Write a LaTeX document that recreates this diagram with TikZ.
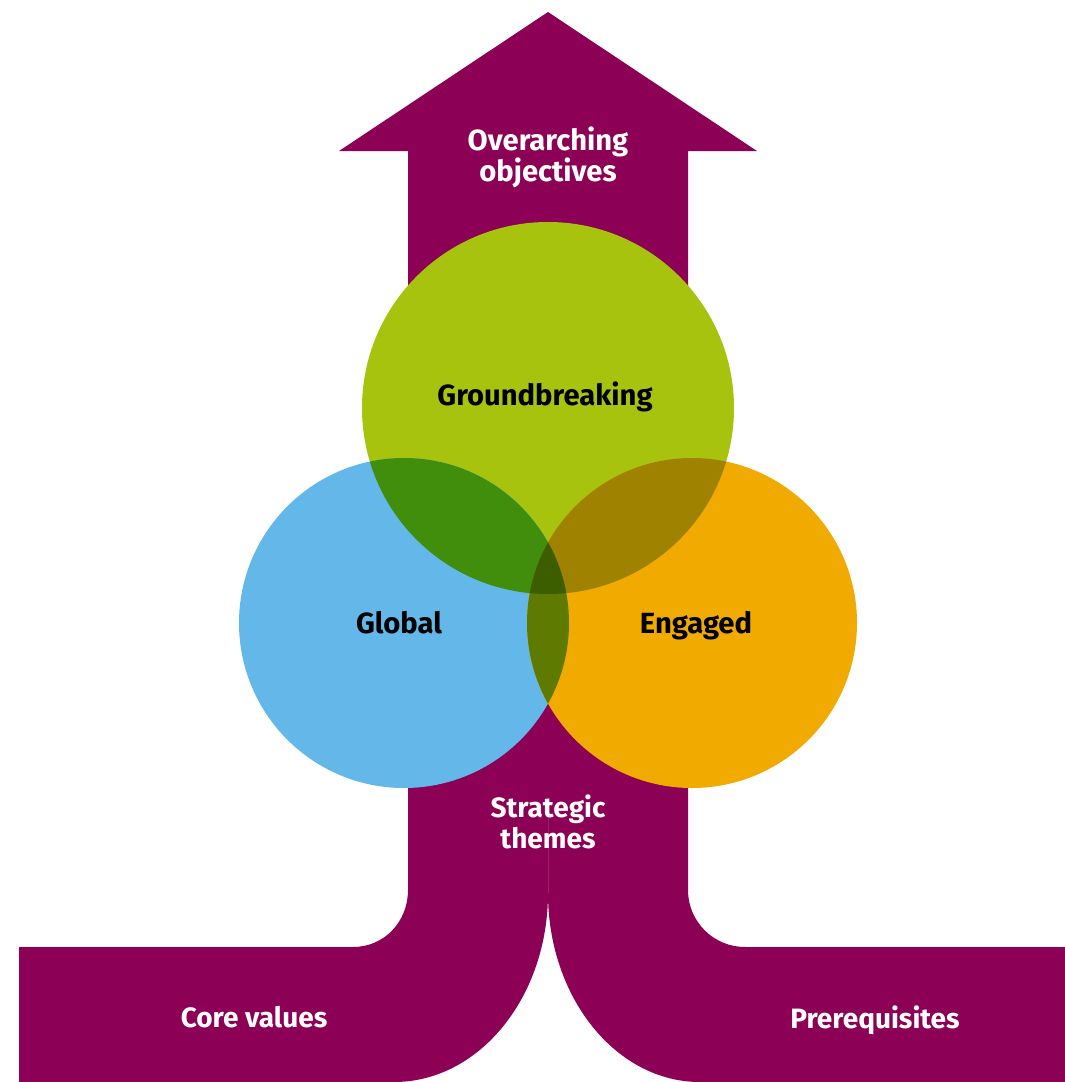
\documentclass[tikz,border=0pt]{standalone}
\usepackage{fontspec}
\setmainfont{Fira Sans}
\begin{document}
\definecolor{plum}{RGB}{140,0,85}
\definecolor{lime}{RGB}{168,195,13}
\definecolor{sky}{RGB}{99,184,233}
\definecolor{amber}{RGB}{241,170,0}
\definecolor{limesky}{RGB}{65,141,12}
\definecolor{limeamber}{RGB}{159,130,0}
\definecolor{skyamber}{RGB}{94,123,0}
\definecolor{allthree}{RGB}{61,94,0}
\begin{tikzpicture}[x=0.5pt,y=-0.5pt,
  lbl/.style={font=\fontsize{14}{15.5}\selectfont\bfseries, align=center, inner sep=0pt},
  biglbl/.style={lbl, font=\fontsize{14.6}{15.5}\selectfont\bfseries},
  whitelbl/.style={lbl, text=white},
  darklbl/.style={biglbl, text=black}]
\useasboundingbox (0,0) rectangle (1065,1082);

% circle centres
\coordinate (cg) at (548,408);
\coordinate (cb) at (404,623);
\coordinate (co) at (692,623);

% arrow with the two incoming branches
\fill[plum] (548,12) -- (757,151) -- (688,151) -- (688,890)
  .. controls (688,921.5) and (713.5,947) .. (745,947)
  -- (1065,947) -- (1065,1082) -- (700,1082)
  .. controls (616,1082) and (548,997.4) .. (548,893)
  .. controls (548,997.4) and (479,1082) .. (394,1082)
  -- (19,1082) -- (19,947) -- (353,947)
  .. controls (384.5,947) and (408,921.5) .. (408,890)
  -- (408,151) -- (339,151) -- cycle;
\draw[plum!88!white, line width=0.25pt] (548,815) -- (548,893);

% three circles
\fill[lime] (cg) circle[radius=93pt];
\fill[sky] (cb) circle[radius=82.5pt];
\fill[amber] (co) circle[radius=82.5pt];

% overlaps
\begin{scope}
  \clip (cg) circle[radius=93pt];
  \fill[limesky] (cb) circle[radius=82.5pt];
  \fill[limeamber] (co) circle[radius=82.5pt];
\end{scope}
\begin{scope}
  \clip (cb) circle[radius=82.5pt];
  \fill[skyamber] (co) circle[radius=82.5pt];
  \clip (co) circle[radius=82.5pt];
  \fill[allthree] (cg) circle[radius=93pt];
\end{scope}

% labels
\node[biglbl, text=white] (top) at (548,157) {Overarching\\objectives};
\node[darklbl] (gb) at (545,397) {Groundbreaking};
\node[darklbl] (gl) at (399,623) {Global};
\node[darklbl] (en) at (696,626) {Engaged};
\node[whitelbl] (st) at (548,822) {Strategic\\themes};
\node[whitelbl] (cv) at (254,1017) {Core values};
\node[whitelbl] (pr) at (875,1020) {Prerequisites};
\end{tikzpicture}
\end{document}
